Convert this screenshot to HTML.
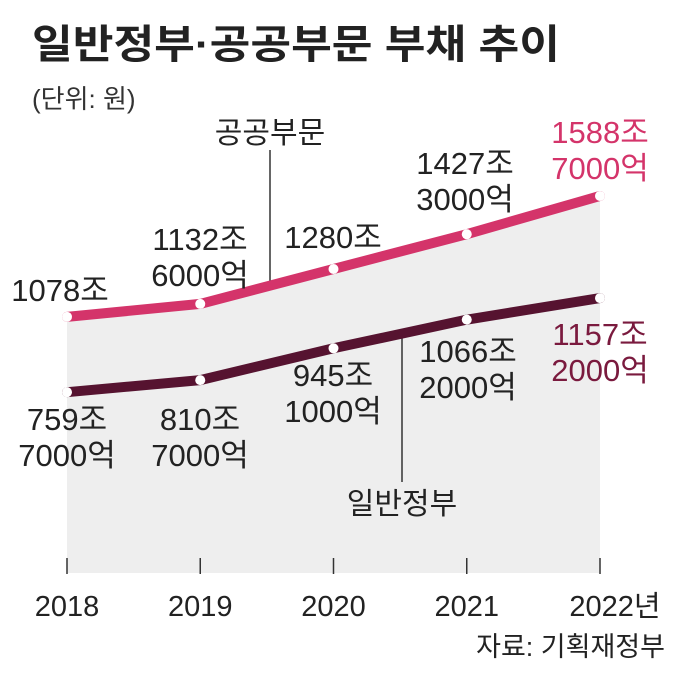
<!DOCTYPE html>
<html><head><meta charset="utf-8"><style>
body{margin:0;background:#fff;font-family:"Liberation Sans","Noto Sans CJK KR",sans-serif}
svg text{font-family:"Liberation Sans","Noto Sans CJK KR",sans-serif}
</style></head><body>
<svg id="c" width="680" height="678" viewBox="0 0 680 678">
<text x="32" y="58" font-size="40" font-weight="bold" fill="#222" textLength="528" lengthAdjust="spacingAndGlyphs">일반정부·공공부문 부채 추이</text>
<text x="32" y="108" font-size="26" fill="#333">(단위: 원)</text>
<g id="plot"></g>
<text x="665" y="656" font-size="27" fill="#222" text-anchor="end">자료: 기획재정부</text>
</svg>
<script>
const years=["2018","2019","2020","2021","2022년"];
const publicSector=[1078,1132.6,1280,1427.3,1588.7];
const generalGov=[759.7,810.7,945.1,1066.2,1157.2];
const publicLabels=[["1078조"],["1132조","6000억"],["1280조"],["1427조","3000억"],["1588조","7000억"]];
const govLabels=[["759조","7000억"],["810조","7000억"],["945조","1000억"],["1066조","2000억"],["1157조","2000억"]];
const NS="http://www.w3.org/2000/svg";
const g=document.getElementById('plot');
const x=i=>67+i*133.25;
const y=v=>572-v*0.2367;
function mk(t,a,p){const e=document.createElementNS(NS,t);for(const k in a)e.setAttribute(k,a[k]);(p||g).appendChild(e);return e;}
let d="M"+x(0)+","+y(publicSector[0]);
publicSector.forEach((v,i)=>d+=" L"+x(i)+","+y(v));
d+=" L"+x(4)+",573 L"+x(0)+",573 Z";
const area=mk('path',{d:d,fill:"#eeeeee"});


years.forEach((yr,i)=>{
 const tk=mk('line',{x1:x(i),x2:x(i),y1:558,y2:574,stroke:"#333","stroke-width":1.5});
 
 
 const t=mk('text',{x:x(i)+(i==4?15:0),y:616,"font-size":29,"text-anchor":"middle",fill:"#222"});
 t.textContent=yr;
 
 
});
const l1=mk('line',{x1:270,x2:270,y1:150,y2:288,stroke:"#333","stroke-width":1.5});


const l2=mk('line',{x1:402,x2:402,y1:335,y2:482,stroke:"#333","stroke-width":1.5});


const n1=mk('text',{x:270,y:143,"font-size":30,"text-anchor":"middle",fill:"#222"});n1.textContent="공공부문";


const n2=mk('text',{x:402,y:514,"font-size":30,"text-anchor":"middle",fill:"#222"});n2.textContent="일반정부";


function series(vals,color,name){
 const pts=vals.map((v,i)=>x(i)+","+y(v)).join(" ");
 const pl=mk('polyline',{points:pts,fill:"none",stroke:color,"stroke-width":10,"stroke-linejoin":"round","stroke-linecap":"round"});
 
 
 vals.forEach((v,i)=>{
  const c=mk('circle',{cx:x(i),cy:y(v),r:5,fill:"#fff"});
  
  
 });
}
series(publicSector,"#d4346a","public");
series(generalGov,"#561330","gov");
function lbl(lines,cx,cy,color,name){
 const t=mk('text',{x:cx,y:cy,"font-size":31,"text-anchor":"middle",fill:color});
 lines.forEach((s,k)=>{const sp=mk('tspan',{x:cx,dy:k?36:0},t);sp.textContent=s;});
 
 
}
const pPos=[[60,301],[200,250],[333,248],[465,174],[600,143]];
const gPos=[[67,430],[200,430],[333,386],[468,362],[600,345]];
publicSector.forEach((v,i)=>lbl(publicLabels[i],pPos[i][0],pPos[i][1],i==4?"#d4346a":"#222","public-value-label"));
generalGov.forEach((v,i)=>lbl(govLabels[i],gPos[i][0],gPos[i][1],i==4?"#7a1a3e":"#222","gov-value-label"));
</script>
</body></html>
